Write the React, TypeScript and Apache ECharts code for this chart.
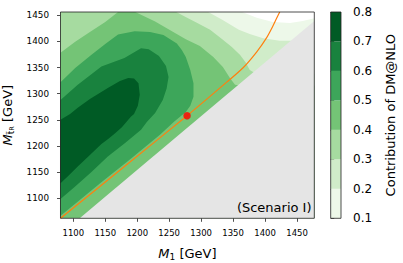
import React, { useEffect, useRef } from "react";
import * as echarts from "echarts";

const FONT = "DejaVu Sans";

// axis extents and ticks
const xRange = [1080, 1477];
const yRange = [1062, 1456];
const xTicks = [1100, 1150, 1200, 1250, 1300, 1350, 1400, 1450];
const yTicks = [1100, 1150, 1200, 1250, 1300, 1350, 1400, 1450];

// colour levels (contourf levels) and the band colours (Greens)
const levels = [0.1, 0.2, 0.3, 0.4, 0.5, 0.6, 0.7, 0.8];
const bandColors = ["#edf8e9", "#d0ecc9", "#a6dba0", "#74c476", "#3da65a", "#19823e", "#005b25"];

// contour lines, in data coordinates [M1, M_stop]
const contour01 = [[1364, 1456], [1387, 1445], [1412, 1437], [1439, 1435], [1459, 1439], [1477, 1444]];
const contour02 = [[1311, 1456], [1333, 1441], [1359, 1422], [1376, 1414], [1397, 1406], [1423, 1401], [1445, 1401]];
const contour03 = [[1261, 1456], [1275, 1447], [1294, 1435], [1314, 1422], [1333, 1404], [1348, 1389], [1361, 1374], [1370, 1359], [1376, 1345], [1386, 1338]];
const contour04Left = [[1080, 1378], [1103, 1399], [1126, 1418], [1150, 1437], [1170, 1456]];
const contour04Right = [[1197, 1456], [1228, 1438], [1253, 1420], [1276, 1404], [1298, 1391], [1319, 1370], [1334, 1351], [1345, 1330], [1353, 1317], [1364, 1315]];
const contour05 = [[1080, 1322], [1103, 1349], [1128, 1374], [1150, 1395], [1170, 1413], [1196, 1419], [1220, 1418], [1241, 1412], [1262, 1396], [1270, 1383], [1276, 1370], [1283, 1345], [1288, 1320], [1288, 1294], [1283, 1277], [1276, 1265], [1267, 1256], [1258, 1247], [1236, 1222], [1189, 1175], [1142, 1129], [1103, 1090], [1080, 1067]];
const contour06 = [[1080, 1288], [1107, 1317], [1144, 1352], [1180, 1368], [1206, 1387], [1218, 1385], [1234, 1372], [1245, 1353], [1249, 1332], [1246, 1310], [1240, 1288], [1228, 1263], [1215, 1246], [1206, 1231], [1181, 1206], [1154, 1180], [1128, 1150], [1102, 1122], [1080, 1099]];
const contour07 = [[1080, 1250], [1095, 1261], [1107, 1273], [1126, 1290], [1154, 1311], [1173, 1324], [1186, 1330], [1195, 1329], [1202, 1320], [1204, 1298], [1201, 1277], [1195, 1261], [1190, 1256], [1176, 1236], [1165, 1224], [1154, 1213], [1144, 1204], [1126, 1183], [1107, 1161], [1092, 1143], [1080, 1129]];

// excluded region edge, relic-density line and benchmark point
const excludedEdge = [[1110, 1062], [1477, 1439]];
const relicLine = [[1080, 1062], [1180, 1161], [1278, 1258], [1340, 1322], [1366, 1350], [1387, 1380], [1402, 1406], [1413, 1431], [1420, 1449], [1423, 1456]];
const benchmark = [[1278, 1258]];

const [X0, X1] = xRange;
const [Y0, Y1] = yRange;

const closeBelow = (line: number[][]) => {
  const last = line[line.length - 1];
  return [...line, [X1, last[1]], [X1, Y0], [X0, Y0]];
};

const bandPolygons = [
  [[X0, Y1], ...closeBelow(contour01)],
  [[X0, Y1], ...closeBelow(contour02)],
  [[X0, Y1], ...closeBelow(contour03)],
  closeBelow([...contour04Left, ...contour04Right]),
  contour05,
  contour06,
  contour07,
];
const excludedPolygon = [excludedEdge[0], excludedEdge[1], [X1, Y0]];

function polygonSeries(points: number[][], color: string) {
  return {
    type: "custom",
    xAxisIndex: 0,
    yAxisIndex: 0,
    silent: true,
    clip: true,
    data: points,
    encode: { x: 0, y: 1 },
    renderItem: (params: any, api: any) => {
      if (params.dataIndex !== 0) return null;
      return {
        type: "polygon",
        shape: { points: points.map((p) => api.coord(p)) },
        style: { fill: color },
      };
    },
  };
}

export default function App() {
  const ref = useRef<HTMLDivElement>(null);
  useEffect(() => {
    if (!ref.current) return;
    const chart = echarts.init(ref.current, null, { renderer: "svg" });
    const nameRich = {
      m: { fontSize: 13, fontStyle: "italic", fontFamily: FONT, lineHeight: 16, color: "#000" },
      s: { fontSize: 9, fontFamily: FONT, lineHeight: 9, verticalAlign: "bottom", color: "#000" },
      r: { fontSize: 6.5, fontFamily: FONT, lineHeight: 6, verticalAlign: "bottom", color: "#000" },
      t: { fontSize: 13, fontFamily: FONT, lineHeight: 16, color: "#000" },
    };
    const series: any[] = bandPolygons.map((p, i) => polygonSeries(p, bandColors[i]));
    series.push(polygonSeries(excludedPolygon, "#e5e5e5"));
    series.push({
      type: "line",
      xAxisIndex: 0,
      yAxisIndex: 0,
      data: relicLine,
      showSymbol: false,
      smooth: 0.3,
      clip: true,
      silent: true,
      lineStyle: { color: "#ff7f0e", width: 1.2 },
      z: 3,
    });
    series.push({
      type: "scatter",
      xAxisIndex: 0,
      yAxisIndex: 0,
      data: benchmark,
      symbolSize: 7.5,
      silent: true,
      itemStyle: { color: "#ff0000" },
      z: 4,
    });
    // frame of main plot
    series.push({
      type: "custom",
      xAxisIndex: 0,
      yAxisIndex: 0,
      silent: true,
      clip: false,
      data: [[X0, Y0]],
      z: 5,
      renderItem: (params: any, api: any) => {
        const a = api.coord([X0, Y1]);
        const b = api.coord([X1, Y0]);
        return {
          type: "rect",
          shape: { x: a[0], y: a[1], width: b[0] - a[0], height: b[1] - a[1] },
          style: { fill: "none", stroke: "#222", lineWidth: 0.8 },
        };
      },
    });
    // colorbar blocks
    series.push({
      type: "custom",
      xAxisIndex: 1,
      yAxisIndex: 1,
      silent: true,
      data: bandColors.map((c, i) => [levels[i], levels[i + 1]]),
      encode: { y: [0, 1] },
      renderItem: (params: any, api: any) => {
        const lo = api.value(0);
        const hi = api.value(1);
        const p0 = api.coord([0, lo]);
        const p1 = api.coord([1, hi]);
        return {
          type: "rect",
          shape: { x: p0[0], y: p1[1], width: p1[0] - p0[0], height: p0[1] - p1[1] },
          style: { fill: bandColors[params.dataIndex] },
        };
      },
    });
    series.push({
      type: "custom",
      xAxisIndex: 1,
      yAxisIndex: 1,
      silent: true,
      clip: false,
      data: [[0, levels[0]]],
      z: 5,
      renderItem: (params: any, api: any) => {
        const a = api.coord([0, levels[levels.length - 1]]);
        const b = api.coord([1, levels[0]]);
        return {
          type: "rect",
          shape: { x: a[0], y: a[1], width: b[0] - a[0], height: b[1] - a[1] },
          style: { fill: "none", stroke: "#222", lineWidth: 0.8 },
        };
      },
    });

    chart.setOption({
      animation: false,
      backgroundColor: "#ffffff",
      grid: [
        { left: 60.5, top: 12, width: 253.8, height: 206.3, containLabel: false, outerBoundsMode: "none" },
        { left: 330.7, top: 12, width: 10.3, height: 206.3, containLabel: false, outerBoundsMode: "none" },
      ],
      xAxis: [
        {
          gridIndex: 0,
          type: "value",
          min: X0,
          max: X1,
          axisLine: { show: false },
          splitLine: { show: false },
          axisTick: { show: true, length: 3.5, lineStyle: { color: "#222", width: 0.8 }, customValues: xTicks },
          axisLabel: {
            show: true,
            customValues: xTicks,
            margin: 10,
            fontSize: 8.5,
            color: "#000",
            fontFamily: FONT,
            formatter: (v: number) => String(v),
          },
          name: "{m|M}{s|1}{t| [GeV]}",
          nameLocation: "middle",
          nameGap: 27,
          nameTextStyle: { color: "#000", fontFamily: FONT, fontSize: 13, rich: nameRich },
        },
        { gridIndex: 1, type: "value", min: 0, max: 1, show: false },
      ],
      yAxis: [
        {
          gridIndex: 0,
          type: "value",
          min: Y0,
          max: Y1,
          axisLine: { show: false },
          splitLine: { show: false },
          axisTick: { show: true, length: 3.5, lineStyle: { color: "#222", width: 0.8 }, customValues: yTicks },
          axisLabel: {
            show: true,
            customValues: yTicks,
            margin: 11.5,
            fontSize: 8.8,
            color: "#000",
            fontFamily: FONT,
            formatter: (v: number) => String(v),
          },
          name: "{m|M}{s|t\u0303}{r|R}{t| [GeV]}",
          nameLocation: "middle",
          nameRotate: 90,
          nameGap: 34,
          nameTextStyle: { color: "#000", fontFamily: FONT, fontSize: 13, rich: nameRich },
        },
        {
          gridIndex: 1,
          type: "value",
          position: "right",
          min: levels[0],
          max: levels[levels.length - 1],
          interval: 0.1,
          axisLine: { show: false },
          splitLine: { show: false },
          axisTick: { show: true, length: 3.5, lineStyle: { color: "#222", width: 0.8 }, customValues: levels },
          axisLabel: {
            show: true,
            customValues: levels,
            margin: 12,
            fontSize: 12,
            color: "#000",
            fontFamily: FONT,
            formatter: (v: number) => v.toFixed(1),
          },
          name: "Contribution of DM@NLO",
          nameLocation: "middle",
          nameRotate: 90,
          nameGap: 43,
          nameTextStyle: { color: "#000", fontFamily: FONT, fontSize: 13 },
        },
      ],
      graphic: [
        {
          type: "text",
          x: 311.5,
          y: 207,
          z: 10,
          style: { text: "(Scenario I)", fontSize: 13, fontFamily: FONT, fill: "#000", align: "right", verticalAlign: "middle" },
        },
      ],
      series,
    });
    return () => chart.dispose();
  }, []);
  return <div ref={ref} style={{ position: "fixed", left: 0, top: 0, width: 403, height: 263 }} />;
}
